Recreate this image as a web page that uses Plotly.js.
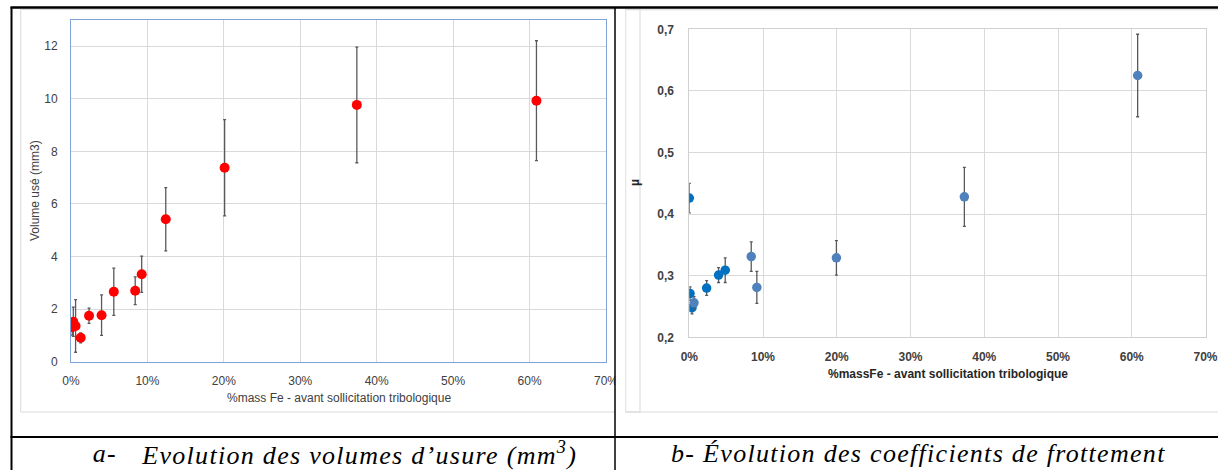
<!DOCTYPE html>
<html>
<head>
<meta charset="utf-8">
<script src="https://cdn.plot.ly/plotly-3.0.1.min.js"></script>
<style>
  html, body { margin: 0; padding: 0; background: #ffffff; }
  #chart { width: 1218px; height: 470px; }
  #chart .annotation[data-index="0"] text,
  #chart .annotation[data-index="1"] text,
  #chart .annotation[data-index="2"] text { letter-spacing: 1.3px; }
</style>
</head>
<body>
<div id="chart"></div>
<script>
// ---- Data ----
// Panel a: wear volume (mm3) vs %mass Fe
const volFe      = [0.17, 0.3, 0.6, 1.27, 2.36, 4.0, 5.6, 8.4, 9.25, 12.4, 20.1, 37.4, 60.9];
const volValues  = [1.31, 1.52, 1.36, 0.91, 1.75, 1.77, 2.66, 2.70, 3.33, 5.42, 7.38, 9.77, 9.93];
const volErr     = [0.30, 0.56, 1.00, 0.19, 0.29, 0.77, 0.90, 0.53, 0.69, 1.20, 1.83, 2.20, 2.28];

// Panel b: friction coefficient µ vs %mass Fe (two marker groups)
const muFeA      = [0.0, 0.1, 0.37, 2.35, 3.97, 4.87];
const muValuesA  = [0.426, 0.271, 0.248, 0.280, 0.301, 0.309];
const muErrA     = [0.024, 0.011, 0.010, 0.012, 0.012, 0.020];
const muFeB      = [0.64, 8.4, 9.16, 19.95, 37.3, 60.8];
const muValuesB  = [0.256, 0.331, 0.281, 0.329, 0.428, 0.625];
const muErrB     = [0.010, 0.024, 0.026, 0.028, 0.048, 0.067];

const xTicks     = [0, 10, 20, 30, 40, 50, 60, 70];
const xTickText  = ['0%', '10%', '20%', '30%', '40%', '50%', '60%', '70%'];
const volTicks   = [0, 2, 4, 6, 8, 10, 12];
const muTicks    = [0.2, 0.3, 0.4, 0.5, 0.6, 0.7];
const muTickText = ['0,2', '0,3', '0,4', '0,5', '0,6', '0,7'];

const titleXA = '%mass Fe - avant sollicitation tribologique';
const titleYA = 'Volume usé (mm3)';
const titleXB = '%massFe - avant sollicitation tribologique';
const titleYB = 'µ';

const captionA_label = 'a-';
const captionA = 'Evolution des volumes d’usure (mm<sup>3</sup>)';
const captionB = 'b- Évolution des coefficients de frottement';

// ---- Layout helpers (pixel -> paper) ----
const W = 1218, H = 470;
const px = x => x / W;
const py = y => 1 - y / H;

const errStyle = (arr) => ({type: 'data', array: arr, visible: true, color: '#595959', thickness: 1.3, width: 1.5});

const traces = [
  {x: volFe, y: volValues, type: 'scatter', mode: 'markers', xaxis: 'x', yaxis: 'y',
   marker: {color: '#ff0000', size: 10}, error_y: errStyle(volErr), name: 'Volume usé'},
  {x: muFeA, y: muValuesA, type: 'scatter', mode: 'markers', xaxis: 'x2', yaxis: 'y2',
   marker: {color: '#0070c0', size: 9.5}, error_y: errStyle(muErrA), name: 'µ (a)'},
  {x: muFeB, y: muValuesB, type: 'scatter', mode: 'markers', xaxis: 'x2', yaxis: 'y2',
   marker: {color: '#4f81bd', size: 9.5}, error_y: errStyle(muErrB), name: 'µ (b)'}
];

const SANS = 'Liberation Sans, Arial, sans-serif';
const SERIF = 'Liberation Serif, Times New Roman, serif';
const tickFontA = {family: SANS, size: 12, color: '#404040'};
const tickFontB = {family: SANS, size: 12, color: '#404040', weight: 'bold'};
const capFont = {family: SERIF, size: 26, color: '#000000'};

const layout = {
  width: W, height: H,
  margin: {l: 0, r: 0, t: 0, b: 0},
  paper_bgcolor: '#ffffff', plot_bgcolor: '#ffffff',
  showlegend: false,
  xaxis: {
    domain: [px(71), px(606)], anchor: 'y',
    range: [0, 70], tickmode: 'array', tickvals: xTicks, ticktext: xTickText,
    showgrid: true, gridcolor: '#d9d9d9', gridwidth: 1,
    showline: true, mirror: true, linecolor: '#7fa3d7', linewidth: 1,
    zeroline: false, ticks: '', tickfont: tickFontA, ticklabelstandoff: 8,
    ticklabeloverflow: 'allow'
  },
  yaxis: {
    domain: [py(361.7), py(20)], anchor: 'x',
    range: [0, 13], tickmode: 'array', tickvals: volTicks,
    showgrid: true, gridcolor: '#d9d9d9', gridwidth: 1,
    showline: true, mirror: true, linecolor: '#7fa3d7', linewidth: 1,
    zeroline: false, ticks: '', tickfont: tickFontA, ticklabelstandoff: 10
  },
  xaxis2: {
    domain: [px(689.3), px(1205.5)], anchor: 'y2',
    range: [0, 70], tickmode: 'array', tickvals: xTicks, ticktext: xTickText,
    showgrid: true, gridcolor: '#d9d9d9', gridwidth: 1,
    showline: true, mirror: true, linecolor: '#d0d0d0', linewidth: 1,
    zeroline: false, ticks: '', tickfont: tickFontB, ticklabelstandoff: 8,
    ticklabeloverflow: 'allow'
  },
  yaxis2: {
    domain: [py(337.3), py(29.3)], anchor: 'x2',
    range: [0.2, 0.7], tickmode: 'array', tickvals: muTicks, ticktext: muTickText,
    showgrid: true, gridcolor: '#d9d9d9', gridwidth: 1,
    showline: true, mirror: true, linecolor: '#d0d0d0', linewidth: 1,
    zeroline: false, ticks: '', tickfont: tickFontB, ticklabelstandoff: 12
  },
  shapes: [
    // chart area frames (light gray)
    {type: 'rect', xref: 'paper', yref: 'paper', x0: px(20.7), x1: px(640), y0: py(412), y1: py(9.5),
     line: {color: '#d9d9d9', width: 1}, fillcolor: 'rgba(0,0,0,0)', layer: 'below'},
    {type: 'rect', xref: 'paper', yref: 'paper', x0: px(625.7), x1: px(1240), y0: py(412), y1: py(9.8),
     line: {color: '#d9d9d9', width: 1}, fillcolor: 'rgba(0,0,0,0)', layer: 'below'},
    // white cover between panels (the table cell edge clips panel a)
    {type: 'rect', xref: 'paper', yref: 'paper', x0: px(615.5), x1: px(625.2), y0: py(436), y1: py(8),
     line: {width: 0}, fillcolor: '#ffffff', layer: 'above'},
    // table borders (black)
    {type: 'line', xref: 'paper', yref: 'paper', x0: px(10.5), x1: px(1218), y0: py(7.5), y1: py(7.5),
     line: {color: '#000000', width: 2.5}},
    {type: 'line', xref: 'paper', yref: 'paper', x0: px(11.5), x1: px(11.5), y0: py(470), y1: py(7),
     line: {color: '#000000', width: 2}},
    {type: 'line', xref: 'paper', yref: 'paper', x0: px(615), x1: px(615), y0: py(470), y1: py(7),
     line: {color: '#000000', width: 1.5}},
    {type: 'line', xref: 'paper', yref: 'paper', x0: px(10.5), x1: px(1218), y0: py(437), y1: py(437),
     line: {color: '#000000', width: 2}}
  ],
  annotations: [
    {xref: 'paper', yref: 'paper', x: px(92), y: py(453.5), xanchor: 'left', yanchor: 'middle', showarrow: false,
     text: '<i>' + captionA_label + '</i>', font: capFont},
    {xref: 'paper', yref: 'paper', x: px(162), y: py(453.5), xanchor: 'left', yanchor: 'middle', showarrow: false,
     text: '<i>' + captionA + '</i>', font: capFont},
    {xref: 'paper', yref: 'paper', x: px(697), y: py(453.5), xanchor: 'left', yanchor: 'middle', showarrow: false,
     text: '<i>' + captionB + '</i>', font: capFont},
    // axis titles
    {xref: 'paper', yref: 'paper', x: px(338.5), y: py(397.5), xanchor: 'center', yanchor: 'middle', showarrow: false,
     text: titleXA, font: {family: SANS, size: 12, color: '#404040'}},
    {xref: 'paper', yref: 'paper', x: px(35), y: py(191), xanchor: 'center', yanchor: 'middle', showarrow: false,
     textangle: -90, text: titleYA, font: {family: SANS, size: 12, color: '#404040'}},
    {xref: 'paper', yref: 'paper', x: px(947.7), y: py(374), xanchor: 'center', yanchor: 'middle', showarrow: false,
     text: titleXB, font: {family: SANS, size: 12, color: '#262626', weight: 'bold'}},
    {xref: 'paper', yref: 'paper', x: px(635), y: py(183), xanchor: 'center', yanchor: 'middle', showarrow: false,
     textangle: -90, text: titleYB, font: {family: SANS, size: 12, color: '#262626', weight: 'bold'}}
  ]
};

Plotly.newPlot('chart', traces, layout, {staticPlot: true, displayModeBar: false});
</script>
</body>
</html>
